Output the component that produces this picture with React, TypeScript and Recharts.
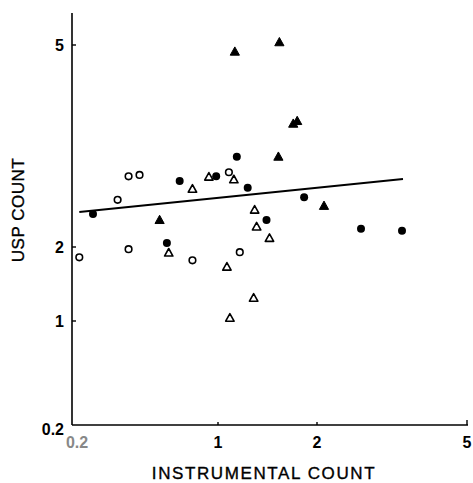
import React from 'react';
import { ScatterChart, Scatter, XAxis, YAxis, ReferenceLine } from 'recharts';

// Tick labels of both axes (values as printed)
const xTickLabels = [0.2, 1, 2, 5];
const yTickLabels = [0.2, 1, 2, 5];
// Axis scale definition: where each printed tick sits along the axis (0..1)
const xTickFrac = [0, 146 / 396, 245 / 396, 395 / 396];
const yTickFrac = [0, 104 / 412, 178 / 412, 380 / 412];

// Series: instrumental count (x) vs USP count (y)
const filledCircleX = [0.315, 0.79, 0.99, 1.19, 1.3, 0.72, 1.87, 1.49, 2.88, 3.7];
const filledCircleY = [2.49, 2.98, 3.05, 3.34, 2.88, 2.06, 2.74, 2.4, 2.27, 2.24];

const filledTriangleX = [1.17, 1.62, 1.76, 1.8, 1.61, 0.68, 2.14];
const filledTriangleY = [4.9, 5.04, 3.83, 3.87, 3.34, 2.4, 2.61];

const openCircleX = [0.24, 0.45, 0.51, 0.57, 1.11, 0.51, 0.86, 1.22];
const openCircleY = [1.86, 2.7, 3.05, 3.07, 3.11, 1.97, 1.82, 1.93];

const openTriangleX = [0.86, 0.95, 1.16, 1.37, 1.39, 1.52, 0.73, 1.09, 1.36, 1.12];
const openTriangleY = [2.86, 3.04, 3.0, 2.55, 2.3, 2.13, 1.92, 1.73, 1.31, 1.04];

// Regression line end points
const fitX = [0.24, 3.72];
const fitY = [2.52, 3.01];

function makeScale(labels: number[], frac: number[]) {
  return (v: number) => {
    for (let i = 0; i < labels.length - 1; i++) {
      if (v <= labels[i + 1] || i === labels.length - 2) {
        const t = (v - labels[i]) / (labels[i + 1] - labels[i]);
        return frac[i] + t * (frac[i + 1] - frac[i]);
      }
    }
    return 0;
  };
}
const toX = makeScale(xTickLabels, xTickFrac);
const toY = makeScale(yTickLabels, yTickFrac);

const build = (xs: number[], ys: number[]) => xs.map((x, i) => ({ x: toX(x), y: toY(ys[i]) }));

const filledCircles = build(filledCircleX, filledCircleY);
const filledTriangles = build(filledTriangleX, filledTriangleY);
const openCircles = build(openCircleX, openCircleY);
const openTriangles = build(openTriangleX, openTriangleY);

const FONT = '"Liberation Sans", Arial, sans-serif';

const nearestIndex = (arr: number[], v: number) => {
  let best = 0;
  for (let i = 1; i < arr.length; i++) if (Math.abs(arr[i] - v) < Math.abs(arr[best] - v)) best = i;
  return best;
};

const XTick = (props: any) => {
  const { x, y, payload } = props;
  const i = nearestIndex(xTickFrac, payload.value);
  const first = i === 0;
  const last = i === xTickFrac.length - 1;
  return (
    <g>
      {!first && (
        <line x1={x} x2={x} y1={y} y2={y - (last ? 5 : 3)} stroke="#000" strokeWidth={1.4} />
      )}
      <text
        x={first ? x + 5 : x}
        y={y + 23}
        textAnchor="middle"
        fontFamily={FONT}
        fontSize={16}
        fontWeight="bold"
        fill={first ? '#888' : '#000'}
      >
        {xTickLabels[i]}
      </text>
    </g>
  );
};

const YTick = (props: any) => {
  const { x, y, payload } = props;
  const i = nearestIndex(yTickFrac, payload.value);
  const first = i === 0;
  return (
    <g>
      {!first && <line x1={x} x2={x + 4} y1={y} y2={y} stroke="#000" strokeWidth={1.4} />}
      <text
        x={x - 8}
        y={y + (first ? 10 : 6)}
        textAnchor="end"
        fontFamily={FONT}
        fontSize={16}
        fontWeight="bold"
        fill="#000"
      >
        {yTickLabels[i]}
      </text>
    </g>
  );
};

const FilledCircle = (p: any) => <circle cx={p.cx} cy={p.cy} r={4} fill="#000" />;
const OpenCircle = (p: any) => (
  <circle cx={p.cx} cy={p.cy} r={3.3} fill="#fff" stroke="#000" strokeWidth={1.6} />
);
const triPoints = (cx: number, cy: number, s: number) =>
  `${cx},${cy - s * 1.05} ${cx + s},${cy + s * 0.75} ${cx - s},${cy + s * 0.75}`;
const FilledTriangle = (p: any) => (
  <polygon points={triPoints(p.cx, p.cy, 4.6)} fill="#000" stroke="#000" strokeWidth={1} strokeLinejoin="round" />
);
const OpenTriangle = (p: any) => (
  <polygon points={triPoints(p.cx, p.cy, 4.2)} fill="#fff" stroke="#000" strokeWidth={1.6} strokeLinejoin="round" />
);

export default function App() {
  return (
    <div style={{ position: 'absolute', left: 0, top: 0, background: '#fff' }}>
      <ScatterChart width={473} height={483} margin={{ top: 13, right: 5, bottom: 0, left: 0 }}>
        <XAxis
          type="number"
          dataKey="x"
          domain={[0, 1]}
          ticks={xTickFrac}
          interval={0}
          height={58}
          tickSize={0}
          tickMargin={0}
          tickLine={false}
          axisLine={{ stroke: '#000', strokeWidth: 1.6 }}
          tick={<XTick />}
          label={{
            content: () => (
              <text
                x={264}
                y={479}
                textAnchor="middle"
                fontFamily={FONT}
                fontSize={17}
                letterSpacing={1.6}
                stroke="#000"
                strokeWidth={0.35}
                fill="#000"
              >
                INSTRUMENTAL COUNT
              </text>
            ),
          }}
        />
        <YAxis
          type="number"
          dataKey="y"
          domain={[0, 1]}
          ticks={yTickFrac}
          interval={0}
          width={72}
          tickSize={0}
          tickMargin={0}
          tickLine={false}
          axisLine={{ stroke: '#000', strokeWidth: 1.6 }}
          tick={<YTick />}
          label={{
            content: () => (
              <text
                x={24}
                y={210}
                transform="rotate(-90 24 210)"
                textAnchor="middle"
                fontFamily={FONT}
                fontSize={17}
                letterSpacing={0.5}
                stroke="#000"
                strokeWidth={0.35}
                fill="#000"
              >
                USP COUNT
              </text>
            ),
          }}
        />
        <ReferenceLine
          segment={[
            { x: toX(fitX[0]), y: toY(fitY[0]) },
            { x: toX(fitX[1]), y: toY(fitY[1]) },
          ]}
          stroke="#000"
          strokeWidth={2}
          ifOverflow="visible"
        />
        <Scatter data={openCircles} shape={OpenCircle} isAnimationActive={false} />
        <Scatter data={openTriangles} shape={OpenTriangle} isAnimationActive={false} />
        <Scatter data={filledCircles} shape={FilledCircle} isAnimationActive={false} />
        <Scatter data={filledTriangles} shape={FilledTriangle} isAnimationActive={false} />
      </ScatterChart>
    </div>
  );
}
